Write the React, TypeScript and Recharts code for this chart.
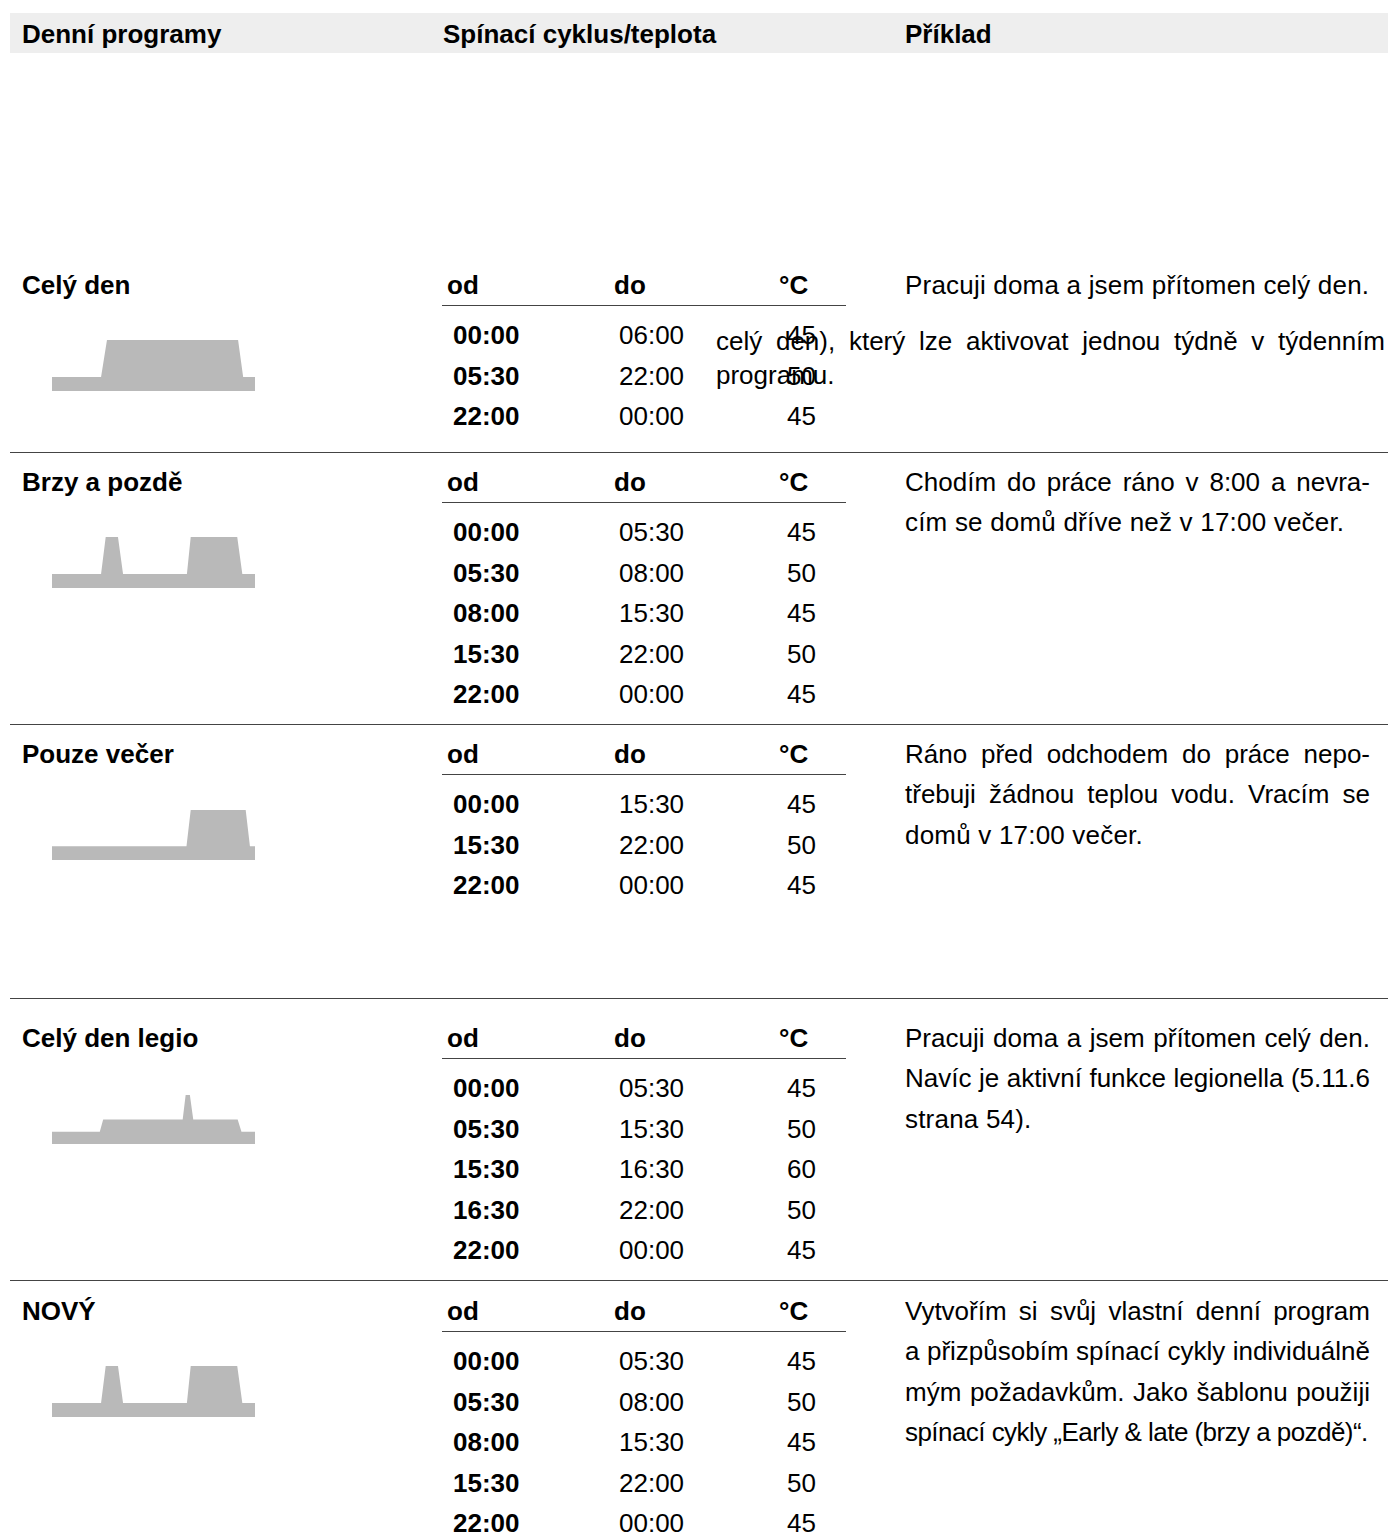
import React from 'react';
import { AreaChart, Area, XAxis, YAxis } from 'recharts';

// program names + schedule tables
const programNames = ['Celý den', 'Brzy a pozdě', 'Pouze večer', 'Celý den legio', 'NOVÝ'];

const fromTimes = [
  ['00:00', '05:30', '22:00'],
  ['00:00', '05:30', '08:00', '15:30', '22:00'],
  ['00:00', '15:30', '22:00'],
  ['00:00', '05:30', '15:30', '16:30', '22:00'],
  ['00:00', '05:30', '08:00', '15:30', '22:00'],
];

const toTimes = [
  ['06:00', '22:00', '00:00'],
  ['05:30', '08:00', '15:30', '22:00', '00:00'],
  ['15:30', '22:00', '00:00'],
  ['05:30', '15:30', '16:30', '22:00', '00:00'],
  ['05:30', '08:00', '15:30', '22:00', '00:00'],
];

const temperatures = [
  [45, 50, 45],
  [45, 50, 45, 50, 45],
  [45, 50, 45],
  [45, 50, 60, 50, 45],
  [45, 50, 45, 50, 45],
];

// example texts, one entry per printed line
const descriptions = [
  ['Pracuji doma a jsem přítomen celý den.'],
  ['Chodím do práce ráno v 8:00 a nevra-', 'cím se domů dříve než v 17:00 večer.'],
  ['Ráno před odchodem do práce nepo-', 'třebuji žádnou teplou vodu. Vracím se', 'domů v 17:00 večer.'],
  ['Pracuji doma a jsem přítomen celý den.', 'Navíc je aktivní funkce legionella (5.11.6', 'strana 54).'],
  [
    'Vytvořím si svůj vlastní denní program',
    'a přizpůsobím spínací cykly individuálně',
    'mým požadavkům. Jako šablonu použiji',
    'spínací cykly „Early & late (brzy a pozdě)“.',
  ],
];

// stray text layer from the source page
const strayLines = ['celý den), který lze aktivovat jednou týdně v týdenním', 'programu.'];

// temperature profiles over the day (hour, °C)
const celyDenProfile = [
  { h: 0, t: 45 }, { h: 5.8, t: 45 }, { h: 6.5, t: 50 }, { h: 22.0, t: 50 }, { h: 22.6, t: 45 }, { h: 24, t: 45 },
];
const brzyProfile = [
  { h: 0, t: 45 }, { h: 5.8, t: 45 }, { h: 6.35, t: 50 }, { h: 7.8, t: 50 }, { h: 8.4, t: 45 },
  { h: 15.95, t: 45 }, { h: 16.4, t: 50 }, { h: 21.9, t: 50 }, { h: 22.5, t: 45 }, { h: 24, t: 45 },
];
const pouzeVecerProfile = [
  { h: 0, t: 45 }, { h: 15.9, t: 45 }, { h: 16.4, t: 50 }, { h: 22.9, t: 50 }, { h: 23.4, t: 45 }, { h: 24, t: 45 },
];
const legioProfile = [
  { h: 0, t: 45 }, { h: 5.65, t: 45 }, { h: 6.05, t: 50 }, { h: 15.45, t: 50 }, { h: 15.8, t: 60 },
  { h: 16.3, t: 60 }, { h: 16.7, t: 50 }, { h: 21.95, t: 50 }, { h: 22.4, t: 45 }, { h: 24, t: 45 },
];
const novyProfile = [
  { h: 0, t: 45 }, { h: 5.8, t: 45 }, { h: 6.35, t: 50 }, { h: 7.8, t: 50 }, { h: 8.4, t: 45 },
  { h: 15.95, t: 45 }, { h: 16.4, t: 50 }, { h: 21.9, t: 50 }, { h: 22.5, t: 45 }, { h: 24, t: 45 },
];
const profiles = [celyDenProfile, brzyProfile, pouzeVecerProfile, legioProfile, novyProfile];

// layout
const FONT = '"Liberation Sans", Arial, Helvetica, sans-serif';
const titleY = [285, 482, 754, 1038, 1311];
const separatorY = [452, 724, 998, 1280];
const chartDomains: [number, number][] = [[43.1, 50], [43.1, 50], [43.1, 50], [40, 60], [43.1, 50]];
const chartHeights = [51, 51, 50, 49, 51];
const ROW = 40.6;
const DESC_LINE = 40.3;

function Txt({ x, y, bold, spacing, children }: { x: number; y: number; bold?: boolean; spacing?: number; children: React.ReactNode }) {
  return (
    <div
      style={{
        position: 'absolute',
        left: x,
        top: y - 11,
        fontSize: 26,
        lineHeight: '22px',
        fontWeight: bold ? 700 : 400,
        letterSpacing: spacing,
        whiteSpace: 'nowrap',
        color: '#000',
      }}
    >
      {children}
    </div>
  );
}

// justified line: words spread across the full width
function JLine({ x, y, width, text }: { x: number; y: number; width: number; text: string }) {
  return (
    <div
      style={{
        position: 'absolute',
        left: x,
        top: y - 11,
        width,
        fontSize: 26,
        lineHeight: '22px',
        display: 'flex',
        justifyContent: 'space-between',
        whiteSpace: 'nowrap',
      }}
    >
      {text.split(' ').map((w, i) => (
        <span key={i}>{w}</span>
      ))}
    </div>
  );
}

function Profile({ data, domain, height, top }: { data: { h: number; t: number }[]; domain: [number, number]; height: number; top: number }) {
  return (
    <div style={{ position: 'absolute', left: 52, top }}>
      <AreaChart width={203} height={height} data={data} margin={{ top: 0, right: 0, bottom: 0, left: 0 }}>
        <XAxis dataKey="h" type="number" domain={[0, 24]} hide />
        <YAxis type="number" domain={domain} hide allowDataOverflow />
        <Area type="linear" dataKey="t" stroke="none" fill="#b9b9b9" fillOpacity={1} isAnimationActive={false} />
      </AreaChart>
    </div>
  );
}

export default function App() {
  return (
    <div style={{ position: 'absolute', left: 0, top: 0, width: 1388, height: 1535, background: '#fff', fontFamily: FONT }}>
      {/* header bar */}
      <div style={{ position: 'absolute', left: 10, top: 13, width: 1378, height: 40, background: '#eeeeee' }} />
      <Txt x={22} y={34} bold>Denní programy</Txt>
      <Txt x={443} y={34} bold>Spínací cyklus/teplota</Txt>
      <Txt x={905} y={34} bold>Příklad</Txt>

      {separatorY.map((y, i) => (
        <div key={i} style={{ position: 'absolute', left: 10, top: y, width: 1378, height: 1, background: '#444' }} />
      ))}

      {programNames.map((name, p) => {
        const ty = titleY[p];
        const last = descriptions[p].length - 1;
        return (
          <React.Fragment key={p}>
            <Txt x={22} y={ty} bold>{name}</Txt>
            <Txt x={447} y={ty} bold>od</Txt>
            <Txt x={614} y={ty} bold>do</Txt>
            <Txt x={779} y={ty} bold>°C</Txt>
            <div style={{ position: 'absolute', left: 442, top: ty + 20, width: 404, height: 1, background: '#444' }} />
            {fromTimes[p].map((f, r) => (
              <React.Fragment key={r}>
                <Txt x={453} y={ty + 50 + r * ROW} bold>{f}</Txt>
                <Txt x={619} y={ty + 50 + r * ROW}>{toTimes[p][r]}</Txt>
                <Txt x={787} y={ty + 50 + r * ROW}>{temperatures[p][r]}</Txt>
              </React.Fragment>
            ))}
            {descriptions[p].map((line, l) =>
              l < last ? (
                <JLine key={l} x={905} y={ty + l * DESC_LINE} width={465} text={line} />
              ) : (
                <Txt key={l} x={905} y={ty + l * DESC_LINE} spacing={line.length > 40 ? -0.55 : 0.2}>{line}</Txt>
              )
            )}
            <Profile data={profiles[p]} domain={chartDomains[p]} height={chartHeights[p]} top={ty + 106 - chartHeights[p]} />
          </React.Fragment>
        );
      })}

      {/* stray overlapping text */}
      <JLine x={716} y={341} width={669} text={strayLines[0]} />
      <Txt x={716} y={375}>{strayLines[1]}</Txt>
    </div>
  );
}
